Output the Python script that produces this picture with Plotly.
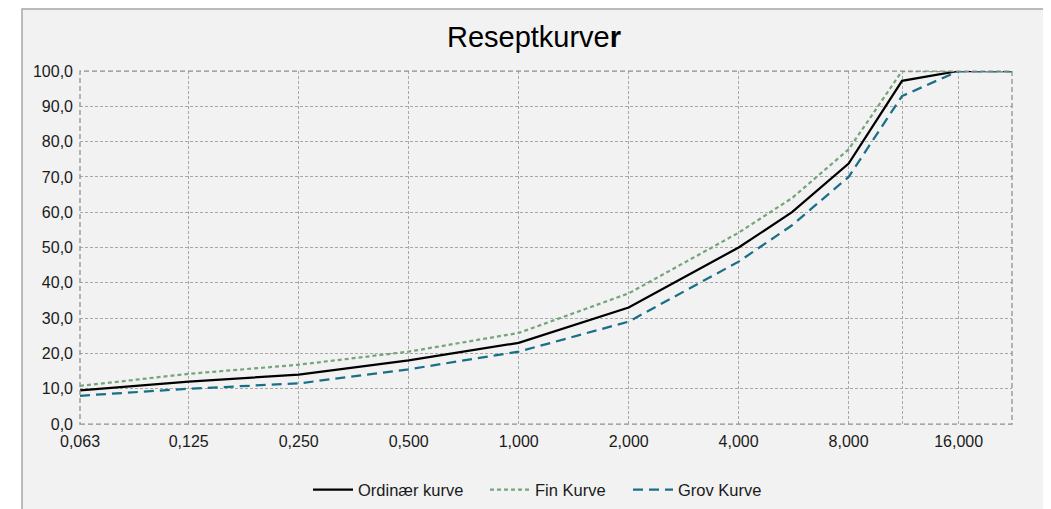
import plotly.graph_objects as go

sieve = [0.063, 0.125, 0.25, 0.5, 1, 2, 4, 5.6, 8, 11.2, 16, 22.4]
ordinaer = [9.5, 12.0, 14.0, 18.0, 23.0, 33.0, 50.0, 60.0, 73.8, 97.2, 100.0, 100.0]
fin = [10.8, 14.2, 16.8, 20.5, 25.8, 37.0, 54.2, 64.0, 77.8, 100.0, 100.0, 100.0]
grov = [8.0, 10.0, 11.5, 15.5, 20.5, 29.0, 46.0, 56.3, 70.0, 92.9, 100.0, 100.0]

tick_vals = [0.063, 0.125, 0.25, 0.5, 1, 2, 4, 8, 11.2, 16]
tick_text = ["0,063", "0,125", "0,250", "0,500", "1,000", "2,000", "4,000", "8,000", "", "16,000"]

FONT = "Liberation Sans, Arial, sans-serif"

# page body has an 8px margin; positions below are absolute page pixels
OFF = 8
PL, PR, PT, PB = 80, 1012, 71, 424
PW, PH = PR - PL, PB - PT
W, H = 1039, 501


def px(x):
    return (x - PL) / PW


def py(y):
    return (PB - y) / PH


fig = go.Figure()
fig.add_trace(go.Scatter(x=sieve, y=ordinaer, name="Ordinær kurve", mode="lines", legend="legend",
                         line=dict(color="#000000", width=2.25)))
fig.add_trace(go.Scatter(x=sieve, y=fin, name="Fin Kurve", mode="lines", legend="legend2",
                         line=dict(color="#77a57b", width=2.25, dash="4px,3px")))
fig.add_trace(go.Scatter(x=sieve, y=grov, name="Grov Kurve", mode="lines", legend="legend3",
                         line=dict(color="#1a6f88", width=2.25, dash="10px,6px")))


def leg(xpage):
    return dict(orientation="h", xref="container", yref="container",
                x=(xpage - OFF) / W, xanchor="left", y=1 - (490 - OFF) / H, yanchor="middle",
                font=dict(size=16.5, family=FONT, color="#1a1a1a"),
                bgcolor="rgba(0,0,0,0)", itemwidth=40)


fig.update_layout(
    width=W, height=H,
    margin=dict(l=PL - OFF, r=W - (PR - OFF), t=PT - OFF, b=H - (PB - OFF), autoexpand=False),
    paper_bgcolor="#ffffff",
    plot_bgcolor="rgba(0,0,0,0)",
    separators=", ",
    font=dict(family=FONT, color="#1a1a1a", size=16),
    title=dict(text="Reseptkurve<b>r</b>", x=(534 - OFF) / W, xanchor="center",
               y=1 - (37 - OFF) / H, yanchor="middle", yref="container",
               font=dict(size=29, family=FONT, color="#000000")),
    showlegend=True,
    legend=leg(313 - 5),
    legend2=leg(490 - 5),
    legend3=leg(633 - 5),
    shapes=[
        dict(type="rect", xref="paper", yref="paper", layer="below",
             x0=px(22), x1=px(1046), y0=py(530), y1=py(9),
             fillcolor="#f2f2f2", line=dict(color="#a6a6a6", width=1.5)),
        dict(type="rect", xref="paper", yref="paper", layer="above",
             x0=0, x1=1, y0=0, y1=1,
             line=dict(color="#8c8c8c", width=1.25, dash="5px,3px")),
    ],
)

fig.update_xaxes(type="log", range=[-1.2006594505, 1.3502480183],
                 tickmode="array", tickvals=tick_vals, ticktext=tick_text,
                 showgrid=True, gridcolor="#a8a8a8", gridwidth=1, griddash="3px,2px",
                 zeroline=False, showline=False, ticks="", ticklabelstandoff=6,
                 automargin=False,
                 tickfont=dict(size=16, family=FONT, color="#1a1a1a"))
fig.update_yaxes(range=[0, 100], dtick=10, tick0=0, tickformat=".1f",
                 showgrid=True, gridcolor="#a8a8a8", gridwidth=1, griddash="3px,2px",
                 zeroline=False, showline=False, ticks="", ticklabelstandoff=6,
                 automargin=False,
                 tickfont=dict(size=16, family=FONT, color="#1a1a1a"))

fig.write_html("out.html")
